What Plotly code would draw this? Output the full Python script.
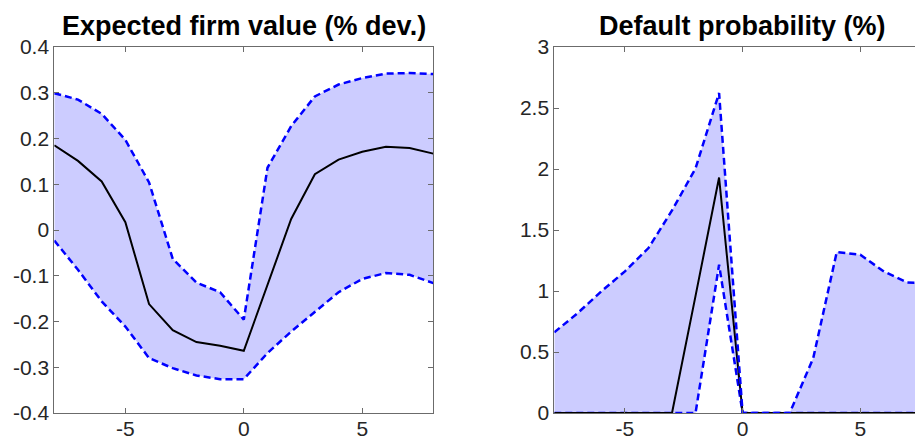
import plotly.graph_objects as go

x = list(range(-8, 9))

# Left panel: expected firm value (% dev.)
fv_median = [0.185, 0.151, 0.106, 0.017, -0.162, -0.219, -0.245, -0.253, -0.264,
             -0.121, 0.024, 0.122, 0.154, 0.171, 0.182, 0.179, 0.167]
fv_upper = [0.299, 0.285, 0.254, 0.197, 0.104, -0.063, -0.115, -0.136, -0.196,
            0.136, 0.227, 0.292, 0.318, 0.332, 0.342, 0.343, 0.341]
fv_lower = [-0.023, -0.087, -0.156, -0.211, -0.280, -0.302, -0.318, -0.326, -0.326,
            -0.269, -0.222, -0.178, -0.136, -0.107, -0.094, -0.098, -0.116]

# Right panel: default probability (%)
dp_median = [0, 0, 0, 0, 0, 0, 0.96, 1.93, 0, 0, 0, 0, 0, 0, 0, 0, 0]
dp_upper = [0.661, 0.82, 0.997, 1.161, 1.352, 1.66, 2.005, 2.623, 0,
            0, 0, 0.45, 1.32, 1.297, 1.16, 1.07, 1.06]
dp_lower = [0, 0, 0, 0, 0, 0, 0, 1.215, 0, 0, 0, 0, 0, 0, 0, 0, 0]

left_yticks = [0.4, 0.3, 0.2, 0.1, 0, -0.1, -0.2, -0.3, -0.4]
left_ytext = ["0.4", "0.3", "0.2", "0.1", "0", "-0.1", "-0.2", "-0.3", "-0.4"]
right_yticks = [0, 0.5, 1, 1.5, 2, 2.5, 3]
right_ytext = ["0", "0.5", "1", "1.5", "2", "2.5", "3"]
xticks = [-5, 0, 5]
xtext = ["-5", "0", "5"]
titles = ["Expected firm value (% dev.)", "Default probability (%)"]

OFF = 8  # page body margin
W, H = 923 - OFF, 439 - OFF
FILL = "#ccccff"
BLUE = "#0000ff"
AX = "#6b6b6b"
FONT = "Liberation Sans"

fig = go.Figure()

def add_panel(xa, ya, med, up, lo):
    fig.add_trace(go.Scatter(x=x, y=lo, mode="lines", line=dict(width=0, color=FILL),
                             xaxis=xa, yaxis=ya, showlegend=False, hoverinfo="skip"))
    fig.add_trace(go.Scatter(x=x, y=up, mode="lines", line=dict(width=0, color=FILL),
                             fill="tonexty", fillcolor=FILL,
                             xaxis=xa, yaxis=ya, showlegend=False, hoverinfo="skip"))
    fig.add_trace(go.Scatter(x=x, y=lo, mode="lines",
                             line=dict(width=2.5, color=BLUE, dash="7px,4px"),
                             xaxis=xa, yaxis=ya, showlegend=False))
    fig.add_trace(go.Scatter(x=x, y=med, mode="lines",
                             line=dict(width=2, color="black"),
                             xaxis=xa, yaxis=ya, showlegend=False))
    fig.add_trace(go.Scatter(x=x, y=up, mode="lines",
                             line=dict(width=2.5, color=BLUE, dash="7px,4px"),
                             xaxis=xa, yaxis=ya, showlegend=False))

add_panel("x", "y", fv_median, fv_upper, fv_lower)
add_panel("x2", "y2", dp_median, dp_upper, dp_lower)

# reference page coordinates, shifted by body margin
top, bottom = 47.3 - OFF, 413.3 - OFF
l1, r1 = 54.3 - OFF, 433.3 - OFF
l2 = 554.3 - OFF
ppu = 23.54
right_max = -8 + (W - l2) / ppu

axis_common = dict(showgrid=False, zeroline=False, showline=True, linecolor=AX,
                   linewidth=1, ticks="inside", ticklen=5, tickcolor=AX, tickwidth=1,
                   tickfont=dict(family=FONT, size=21, color="#262626"))
xaxis_extra = dict(ticklabelstandoff=-3)

fig.update_layout(
    width=W, height=H,
    margin=dict(l=0, r=0, t=top, b=H - bottom, autoexpand=False),
    paper_bgcolor="white", plot_bgcolor="white",
    xaxis=dict(domain=[l1 / W, r1 / W], range=[-8, 8], tickvals=xticks, ticktext=xtext,
               mirror="ticks", anchor="y", **axis_common, **xaxis_extra),
    yaxis=dict(domain=[0, 1], range=[-0.4, 0.4], tickvals=left_yticks, ticktext=left_ytext,
               mirror="ticks", anchor="x", **axis_common),
    xaxis2=dict(domain=[l2 / W, 1], range=[-8, right_max], tickvals=xticks, ticktext=xtext,
                mirror="ticks", anchor="y2", **axis_common, **xaxis_extra),
    yaxis2=dict(domain=[0, 1], range=[0, 3], tickvals=right_yticks, ticktext=right_ytext,
                mirror=False, anchor="x2", **axis_common),
)

plot_h = bottom - top
centers = [(l1 + r1) / 2 / W, (l2 + 8 * ppu) / W]
for cx, t in zip(centers, titles):
    fig.add_annotation(text="<b>" + t + "</b>", x=cx, xref="paper",
                       y=1 + (top - (26 - OFF)) / plot_h, yref="paper",
                       xanchor="center", yanchor="middle", showarrow=False,
                       font=dict(family=FONT, size=27, color="black"))

fig.write_html("out.html")
